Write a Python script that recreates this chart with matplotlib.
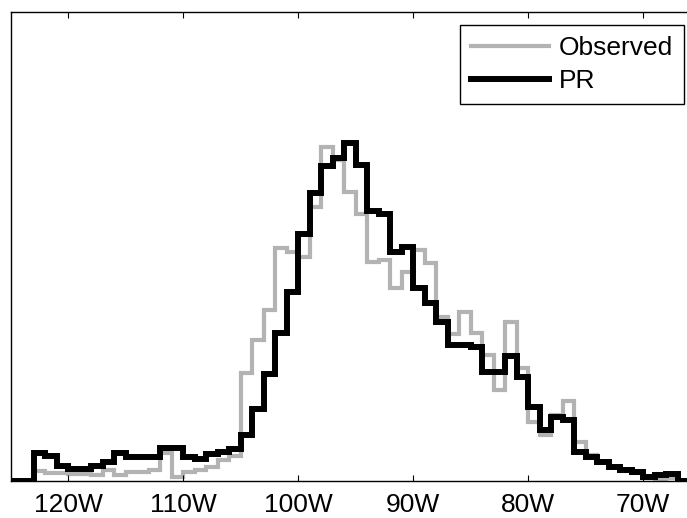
import numpy as np
import matplotlib
matplotlib.use('Agg')
from matplotlib import pyplot as plt

plt.rcParams['font.family'] = ['Liberation Sans', 'DejaVu Sans']

# 1-degree longitude bins, 123W .. 67W
lon_edges = np.arange(-123, -66, 1)

# relative frequency (arbitrary units)
observed = [10, 8, 8, 7, 7, 6, 11, 6, 9, 9, 11, 28, 4, 9, 11, 14, 21, 25,
            108, 141, 171, 233, 229, 224, 274, 334, 321, 289, 267, 219, 221,
            193, 209, 231, 218, 164, 147, 169, 148, 126, 91, 159, 113, 59,
            46, 66, 80, 39, 26, 19, 14, 10, 8, 3, 1, 3]
pr = [28, 25, 15, 12, 12, 15, 19, 28, 24, 24, 24, 33, 33, 24, 22, 27, 29, 32,
      46, 72, 107, 148, 189, 247, 288, 315, 323, 338, 316, 270, 267,
      229, 234, 193, 178, 159, 136, 136, 134, 109, 109, 125, 104, 74,
      51, 64, 61, 29, 24, 19, 14, 11, 9, 4, 6, 7]

xticks = [-120, -110, -100, -90, -80, -70]
xticklabels = ['120W', '110W', '100W', '90W', '80W', '70W']

fig = plt.figure(figsize=(6.87, 5.18), dpi=100)
ax = fig.add_axes([10.5/687, 37/518, 690/687, 469.3/518])

# zero padding so the line runs along the baseline like the original
edges = np.concatenate(([-125], lon_edges, [-65]))
obs_full = [0] + observed + [0]
pr_full = [0] + pr + [0]

ax.stairs(obs_full, edges, color='#b3b3b3', linewidth=3.0, label='Observed')
ax.stairs(pr_full, edges, color='black', linewidth=4.3, label='PR')

ax.set_xlim(-125, -65)
ax.set_ylim(0, 469.3)
ax.set_xticks(xticks)
ax.set_xticklabels(xticklabels)
ax.set_yticks([])
ax.tick_params(axis='x', direction='in', length=4.3, width=0.8, top=True,
               labelsize=19, pad=8.5)
for s in ax.spines.values():
    s.set_linewidth(1.0)

leg = ax.legend(loc='upper left', bbox_to_anchor=(460/687, 1 - 25/518),
                bbox_transform=fig.transFigure, fontsize=19, fancybox=False,
                framealpha=1, edgecolor='black', handlelength=2.95,
                handletextpad=0.38, borderaxespad=0, borderpad=0.42,
                labelspacing=0.33)
leg.get_frame().set_linewidth(1.0)

fig.savefig('out.png', dpi=100)
